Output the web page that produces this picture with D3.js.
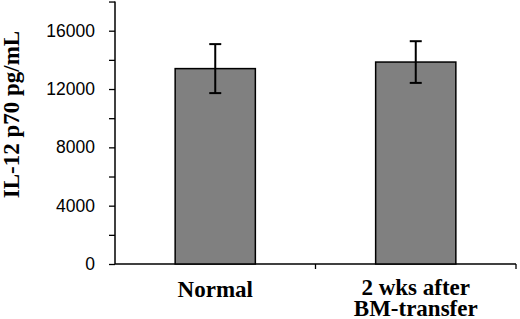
<!DOCTYPE html>
<html lang="en">
<head>
  <meta charset="utf-8">
  <title>IL-12 p70</title>
  <script src="https://cdn.jsdelivr.net/npm/d3@7"></script>
  <style>
    body { margin: 0; background: #fff; }
    .y-axis text { font-family: "Liberation Sans", Arial, sans-serif; font-size: 17.5px; fill: #000; }
    .lbl { font-family: "Liberation Serif", "Times New Roman", serif; font-weight: bold; font-size: 23px; fill: #000; }
  </style>
</head>
<body>
  <div id="chart-area"></div>
  <script>
    // data
    var categories = ["Normal", "2 wks after|BM-transfer"];
    var means = [13400, 13850];
    var errors = [1680, 1430];
    var yTicks = [0, 2000, 4000, 6000, 8000, 10000, 12000, 14000, 16000, 18000];
    var yLabels = [0, 4000, 8000, 12000, 16000];

    var svgWidth = 520, svgHeight = 319;
    var left = 115, right = 516, bottom = 264;

    var svg = d3.select("#chart-area")
                .append("svg")
                .attr("width", svgWidth)
                .attr("height", svgHeight);

    var x = d3.scaleBand()
              .domain(categories)
              .range([left, right])
              .paddingInner(0.6)
              .paddingOuter(0.3);

    var y = d3.scaleLinear()
              .domain([0, 16000])
              .range([bottom, 30.7]);

    // y axis
    var yAxisCall = d3.axisLeft(y)
                      .tickValues(yTicks)
                      .tickSizeOuter(0)
                      .tickSize(6)
                      .tickPadding(14)
                      .tickFormat(function(d) { return yLabels.indexOf(d) >= 0 ? d : ""; });
    var yAxis = svg.append("g")
       .attr("class", "y-axis")
       .attr("transform", "translate(" + left + ",0)")
       .call(yAxisCall);
    yAxis.select(".domain").remove();
    yAxis.selectAll("line").attr("stroke", "#000").attr("stroke-width", 1.3);
    svg.append("line")
       .attr("x1", left).attr("x2", left)
       .attr("y1", bottom).attr("y2", y(18000))
       .attr("stroke", "#000").attr("stroke-width", 1.5);

    // x axis with ticks between categories
    var step = x.step();
    svg.append("line")
       .attr("x1", left).attr("x2", right)
       .attr("y1", bottom).attr("y2", bottom)
       .attr("stroke", "#000").attr("stroke-width", 1.5);
    categories.forEach(function(c) {
      var xb = x(c) + x.bandwidth() / 2 + step / 2;
      svg.append("line")
         .attr("x1", xb).attr("x2", xb)
         .attr("y1", bottom).attr("y2", bottom + 5)
         .attr("stroke", "#000").attr("stroke-width", 1.3);
    });

    // bars
    svg.selectAll("rect.bar")
       .data(categories)
       .enter()
       .append("rect")
       .attr("class", "bar")
       .attr("x", function(d) { return x(d); })
       .attr("width", x.bandwidth())
       .attr("y", function(d, i) { return y(means[i]); })
       .attr("height", function(d, i) { return bottom - y(means[i]); })
       .attr("fill", "#808080")
       .attr("stroke", "#000")
       .attr("stroke-width", 1.5);

    // error bars
    var capW = 6;
    categories.forEach(function(c, i) {
      var cx = x(c) + x.bandwidth() / 2;
      var top = y(means[i] + errors[i]), bot = y(means[i] - errors[i]);
      var g = svg.append("g").attr("stroke", "#000").attr("stroke-width", 2);
      g.append("line").attr("x1", cx).attr("x2", cx).attr("y1", top).attr("y2", bot);
      g.append("line").attr("x1", cx - capW).attr("x2", cx + capW).attr("y1", top).attr("y2", top);
      g.append("line").attr("x1", cx - capW).attr("x2", cx + capW).attr("y1", bot).attr("y2", bot);
    });

    // category labels
    categories.forEach(function(c) {
      var lines = c.split("|");
      var cx = x(c) + x.bandwidth() / 2;
      lines.forEach(function(s, k) {
        svg.append("text")
           .attr("class", "lbl")
           .attr("text-anchor", "middle")
           .attr("x", cx)
           .attr("y", lines.length === 1 ? 297 : 295 + k * 21)
           .text(s);
      });
    });

    // y label
    svg.append("text")
       .attr("class", "lbl")
       .attr("text-anchor", "middle")
       .attr("transform", "translate(19,114.5) rotate(-90)")
       .text("IL-12 p70 pg/mL");
  </script>
</body>
</html>
